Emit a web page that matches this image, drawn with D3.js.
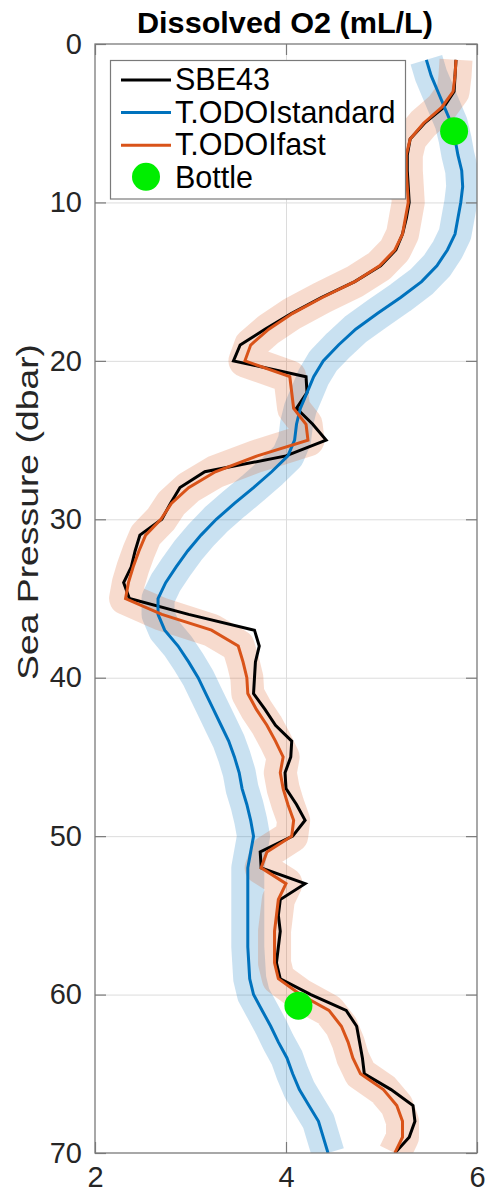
<!DOCTYPE html>
<html>
<head>
<meta charset="utf-8">
<script src="https://cdn.jsdelivr.net/npm/d3@7"></script>
<style>
  body { margin: 0; background: #fff; }
  svg { display: block; }
  text { font-family: "Liberation Sans", Arial, Helvetica, sans-serif; }
</style>
</head>
<body>
<svg id="chart" width="488" height="1192"></svg>
<script>
// Sea pressure levels of the profile (dbar)
const pressure = [
   1,  2,  3,  4,  5,  6,  7,  8,  9, 10,
  11, 12, 13, 14, 15, 16, 17, 18, 19, 20,
  21, 22, 23, 24, 25, 26, 27, 28, 29, 30,
  31, 32, 33, 34, 35, 36, 37, 38, 39, 40,
  41, 42, 43, 44, 45, 46, 47, 48, 49, 50,
  51, 52, 53, 54, 55, 56, 57, 58, 59, 60,
  61, 62, 63, 64, 65, 66, 67, 68, 69, 70
];

// Dissolved oxygen (mL/L) from the SBE43 sensor
const sbe43 = [
  5.78, 5.77, 5.76, 5.65, 5.45, 5.30, 5.27, 5.27, 5.28, 5.29,
  5.26, 5.22, 5.15, 4.99, 4.72, 4.37, 4.06, 3.78, 3.52, 3.45,
  4.21, 4.22, 4.11, 4.28, 4.42, 4.00, 3.15, 2.89, 2.79, 2.70,
  2.47, 2.42, 2.38, 2.30, 2.36, 2.98, 3.67, 3.72, 3.68, 3.67,
  3.66, 3.78, 3.89, 4.06, 4.05, 3.99, 4.00, 4.11, 4.20, 4.07,
  3.73, 3.74, 4.20, 3.94, 3.92, 3.94, 3.92, 3.90, 3.94, 4.26,
  4.63, 4.74, 4.77, 4.80, 4.82, 5.10, 5.33, 5.35, 5.29, 5.14
];

// Dissolved oxygen (mL/L) from the optode, standard response
const odoStandard = [
  5.47, 5.52, 5.59, 5.66, 5.73, 5.77, 5.80, 5.84, 5.85, 5.83,
  5.80, 5.77, 5.69, 5.58, 5.42, 5.20, 4.96, 4.73, 4.55, 4.39,
  4.29, 4.22, 4.15, 4.11, 4.09, 4.02, 3.85, 3.66, 3.46, 3.27,
  3.11, 2.97, 2.85, 2.74, 2.66, 2.66, 2.73, 2.87, 2.98, 3.08,
  3.16, 3.24, 3.32, 3.40, 3.46, 3.51, 3.54, 3.59, 3.63, 3.66,
  3.63, 3.60, 3.60, 3.60, 3.60, 3.60, 3.60, 3.61, 3.62, 3.66,
  3.75, 3.84, 3.92, 4.01, 4.07, 4.14, 4.24, 4.34, 4.39, 4.44
];

// Dissolved oxygen (mL/L) from the optode, fast response
const odoFast = [
  5.78, 5.77, 5.75, 5.63, 5.44, 5.30, 5.26, 5.26, 5.27, 5.28,
  5.25, 5.22, 5.14, 4.98, 4.72, 4.38, 4.07, 3.82, 3.63, 3.57,
  4.04, 4.06, 4.08, 4.21, 4.23, 3.70, 3.26, 2.98, 2.80, 2.69,
  2.53, 2.46, 2.40, 2.35, 2.32, 2.70, 3.22, 3.50, 3.55, 3.59,
  3.60, 3.69, 3.80, 3.89, 3.97, 3.94, 3.97, 4.02, 4.08, 4.06,
  3.80, 3.74, 4.00, 3.92, 3.90, 3.88, 3.88, 3.88, 3.92, 4.15,
  4.45, 4.58, 4.65, 4.70, 4.78, 5.02, 5.16, 5.22, 5.22, 5.14
];

// Bottle samples
const bottlePressure = [5.5, 60.7];
const bottleO2 = [5.76, 4.13];

const xTicks = [2, 4, 6];
const yTicks = [0, 10, 20, 30, 40, 50, 60, 70];

const seriesNames = ["SBE43", "T.ODOIstandard", "T.ODOIfast", "Bottle"];
const colors = {
  sbe: "#000000",
  std: "#0072bd",
  fast: "#d95319",
  bottle: "#00ee00"
};

const svg = d3.select("#chart");
const box = { left: 95, right: 477, top: 44, bottom: 1153 };

const x = d3.scaleLinear().domain([2, 6]).range([box.left, box.right]);
const y = d3.scaleLinear().domain([0, 70]).range([box.top, box.bottom]);

const toPoints = vals => pressure.map((p, i) => ({ p, v: vals[i] }));
const line = d3.line().x(d => x(d.v)).y(d => y(d.p));

// clip to the axes box
svg.append("defs").append("clipPath").attr("id", "plotClip")
  .append("rect").attr("x", box.left).attr("y", box.top)
  .attr("width", box.right - box.left).attr("height", box.bottom - box.top);

// grid
const grid = svg.append("g").attr("class", "grid");
grid.append("g").attr("transform", `translate(0,${box.bottom})`)
  .call(d3.axisBottom(x).tickValues([4]).tickSize(-(box.bottom - box.top)).tickFormat(""))
  .call(g => g.select(".domain").remove())
  .selectAll("line").attr("stroke", "#dcdcdc").attr("stroke-width", 1);
grid.append("g").attr("transform", `translate(${box.left},0)`)
  .call(d3.axisLeft(y).tickValues([10, 20, 30, 40, 50, 60]).tickSize(-(box.right - box.left)).tickFormat(""))
  .call(g => g.select(".domain").remove())
  .selectAll("line").attr("stroke", "#dcdcdc").attr("stroke-width", 1);

const plot = svg.append("g").attr("clip-path", "url(#plotClip)");

// uncertainty bands drawn as wide translucent strokes
plot.append("path").datum(toPoints(odoStandard))
  .attr("d", line).attr("fill", "none")
  .attr("stroke", colors.std).attr("stroke-opacity", 0.21)
  .attr("stroke-width", 33).attr("stroke-linejoin", "round").attr("stroke-linecap", "butt");
plot.append("path").datum(toPoints(odoFast))
  .attr("d", line).attr("fill", "none")
  .attr("stroke", colors.fast).attr("stroke-opacity", 0.21)
  .attr("stroke-width", 33).attr("stroke-linejoin", "round").attr("stroke-linecap", "butt");

// profiles
plot.append("path").datum(toPoints(sbe43))
  .attr("d", line).attr("fill", "none")
  .attr("stroke", colors.sbe).attr("stroke-width", 3);
plot.append("path").datum(toPoints(odoStandard))
  .attr("d", line).attr("fill", "none")
  .attr("stroke", colors.std).attr("stroke-width", 3);
plot.append("path").datum(toPoints(odoFast))
  .attr("d", line).attr("fill", "none")
  .attr("stroke", colors.fast).attr("stroke-width", 3);

// bottle points
plot.selectAll("circle.bottle").data(bottlePressure.map((p, i) => ({ p, v: bottleO2[i] })))
  .join("circle").attr("class", "bottle")
  .attr("cx", d => x(d.v)).attr("cy", d => y(d.p)).attr("r", 14)
  .attr("fill", colors.bottle);

// axes (inward ticks on all four sides)
const axisColor = "#7a7a7a";
const labelColor = "#262626";
const fontSize = 29;

function styleAxis(g) {
  g.select(".domain").remove();
  g.selectAll(".tick line").attr("stroke", axisColor).attr("stroke-width", 1.2);
  g.selectAll(".tick text").attr("fill", labelColor).attr("font-size", fontSize);
}

svg.append("g").attr("transform", `translate(0,${box.bottom})`)
  .call(d3.axisBottom(x).tickValues(xTicks).tickSizeInner(-11).tickSizeOuter(0).tickPadding(13)
    .tickFormat(d3.format("d")))
  .call(styleAxis);
svg.append("g").attr("transform", `translate(0,${box.top})`)
  .call(d3.axisTop(x).tickValues(xTicks).tickSizeInner(-11).tickSizeOuter(0).tickFormat(""))
  .call(styleAxis);
svg.append("g").attr("transform", `translate(${box.left},0)`)
  .call(d3.axisLeft(y).tickValues(yTicks).tickSizeInner(-11).tickSizeOuter(0).tickPadding(13)
    .tickFormat(d3.format("d")))
  .call(styleAxis);
svg.append("g").attr("transform", `translate(${box.right},0)`)
  .call(d3.axisRight(y).tickValues(yTicks).tickSizeInner(-11).tickSizeOuter(0).tickFormat(""))
  .call(styleAxis);

// axes box
svg.append("rect").attr("x", box.left).attr("y", box.top)
  .attr("width", box.right - box.left).attr("height", box.bottom - box.top)
  .attr("fill", "none").attr("stroke", axisColor).attr("stroke-width", 1.3);

// title and axis label
svg.append("text").attr("x", 285).attr("y", 33)
  .attr("text-anchor", "middle").attr("font-size", 29).attr("font-weight", "bold")
  .attr("textLength", 296).attr("lengthAdjust", "spacingAndGlyphs")
  .attr("fill", "#000").text("Dissolved O2 (mL/L)");

svg.append("text").attr("transform", "translate(38,512) rotate(-90)")
  .attr("text-anchor", "middle").attr("font-size", 30).attr("fill", labelColor)
  .attr("textLength", 336).attr("lengthAdjust", "spacingAndGlyphs")
  .text("Sea Pressure (dbar)");

// legend
const legend = svg.append("g");
legend.append("rect").attr("x", 110.5).attr("y", 60.5).attr("width", 295).attr("height", 138.5)
  .attr("fill", "#fff").attr("stroke", axisColor).attr("stroke-width", 1.2);

const legendItems = [
  { name: seriesNames[0], color: colors.sbe, kind: "line" },
  { name: seriesNames[1], color: colors.std, kind: "line" },
  { name: seriesNames[2], color: colors.fast, kind: "line" },
  { name: seriesNames[3], color: colors.bottle, kind: "dot" }
];
legendItems.forEach((d, i) => {
  const cy = 80 + i * 32.6;
  if (d.kind === "line") {
    legend.append("line").attr("x1", 121).attr("x2", 171).attr("y1", cy).attr("y2", cy)
      .attr("stroke", d.color).attr("stroke-width", 3);
  } else {
    legend.append("circle").attr("cx", 146).attr("cy", cy - 1).attr("r", 14).attr("fill", d.color);
  }
  legend.append("text").attr("x", 175).attr("y", cy + 10)
    .attr("font-size", 30.5).attr("fill", "#000").text(d.name);
});
</script>
</body>
</html>
